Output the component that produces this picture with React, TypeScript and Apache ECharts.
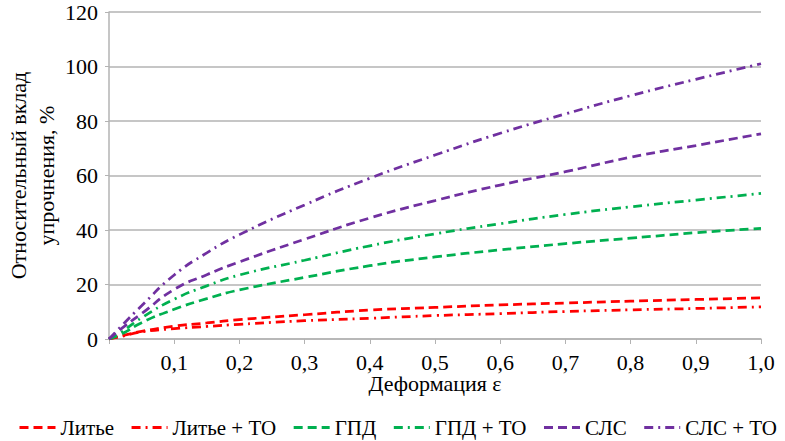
import React, { useEffect, useRef } from "react";
import * as echarts from "echarts";

const strain = [0, 0.02, 0.05, 0.1, 0.15, 0.2, 0.3, 0.4, 0.5, 0.6, 0.7, 0.8, 0.9, 1.0];
const castDash = [0, 1.2, 2.8, 4.7, 5.9, 7.1, 8.9, 10.6, 11.6, 12.5, 13.2, 13.9, 14.5, 15.1];
const castHT = [0, 1.0, 2.6, 3.8, 4.6, 5.4, 6.7, 7.6, 8.6, 9.3, 10.1, 10.7, 11.2, 11.8];
const gpd = [0, 1.9, 6, 10.9, 14.8, 18, 22.6, 26.9, 30.1, 32.7, 35, 37, 39, 40.6];
const gpdHT = [0, 2.7, 7.8, 14.6, 19.5, 23.5, 28.9, 34.2, 38.6, 42.3, 45.7, 48.5, 51, 53.4];
const sls = [0, 4, 9.3, 18.2, 23.6, 28.3, 36.6, 44.4, 50.8, 56.5, 61.4, 66.7, 71, 75.3];
const slsHT = [0, 5, 12.2, 23.5, 31.6, 38.3, 49.2, 59, 67.5, 75.5, 82.6, 89.3, 95.3, 101];

const seriesNames = ["Литье", "Литье + ТО", "ГПД", "ГПД + ТО", "СЛС", "СЛС + ТО"];
const seriesData = [castDash, castHT, gpd, gpdHT, sls, slsHT];
const seriesColors = ["#FF0000", "#FF0000", "#00B050", "#00B050", "#7030A0", "#7030A0"];
const seriesDash = ["dash", "dashdot", "dash", "dashdot", "dash", "dashdot"];

const FONT = "Liberation Serif";

export default function App() {
  const ref = useRef<HTMLDivElement>(null);
  useEffect(() => {
    if (!ref.current) return;
    const chart = echarts.init(ref.current, undefined, { renderer: "svg" });
    const series = seriesNames.map((name, i) => ({
      name,
      type: "line",
      smooth: true,
      symbol: "none",
      showSymbol: false,
      data: strain.map((x, j) => [x, seriesData[i][j]]),
      lineStyle: {
        color: seriesColors[i],
        width: 2.75,
        type: seriesDash[i] === "dash" ? [9, 5] : [9, 5, 2, 5],
      },
      itemStyle: { color: seriesColors[i] },
    }));
    chart.setOption({
      animation: false,
      backgroundColor: "#ffffff",
      textStyle: { fontFamily: FONT, color: "#000" },
      grid: {
        left: 109,
        right: 24,
        top: 12,
        bottom: 102,
        containLabel: false,
        outerBoundsMode: "none",
      },
      legend: {
        data: seriesNames,
        left: 13,
        top: 412,
        itemWidth: 36,
        itemHeight: 14,
        itemGap: 16,
        itemStyle: { opacity: 0 },
        lineStyle: { width: 3 },
        textStyle: { fontFamily: FONT, fontSize: 21, color: "#000" },
      },
      xAxis: {
        type: "value",
        min: 0,
        max: 1,
        interval: 0.1,
        name: "Деформация ε",
        nameLocation: "middle",
        nameGap: 33,
        nameMoveOverlap: false,
        nameTextStyle: { fontFamily: FONT, fontSize: 22, color: "#000" },
        axisLine: { show: true, lineStyle: { color: "#b3b3b3", width: 1.5 } },
        axisTick: { show: true, length: 5, lineStyle: { color: "#b3b3b3" } },
        splitLine: { show: false },
        axisLabel: {
          fontFamily: FONT,
          fontSize: 22,
          color: "#000",
          margin: 12,
          formatter: (v: number) => (v === 0 ? "" : v.toFixed(1).replace(".", ",")),
        },
      },
      yAxis: {
        type: "value",
        min: 0,
        max: 120,
        interval: 20,
        name: "Относительный вклад\nупрочнения, %",
        nameLocation: "middle",
        nameRotate: 90,
        nameGap: 49,
        nameMoveOverlap: false,
        nameTextStyle: { fontFamily: FONT, fontSize: 22, color: "#000", lineHeight: 28, align: "center" },
        axisLine: { show: true, lineStyle: { color: "#b3b3b3", width: 1.5 } },
        axisTick: { show: true, length: 4, lineStyle: { color: "#b3b3b3" } },
        splitLine: { show: true, lineStyle: { color: "#b3b3b3", width: 1.5 } },
        axisLabel: { fontFamily: FONT, fontSize: 22, color: "#000", margin: 11 },
      },
      series,
    });
    return () => chart.dispose();
  }, []);
  return <div ref={ref} style={{ width: 785, height: 441, position: "absolute", left: 0, top: 0 }} />;
}
